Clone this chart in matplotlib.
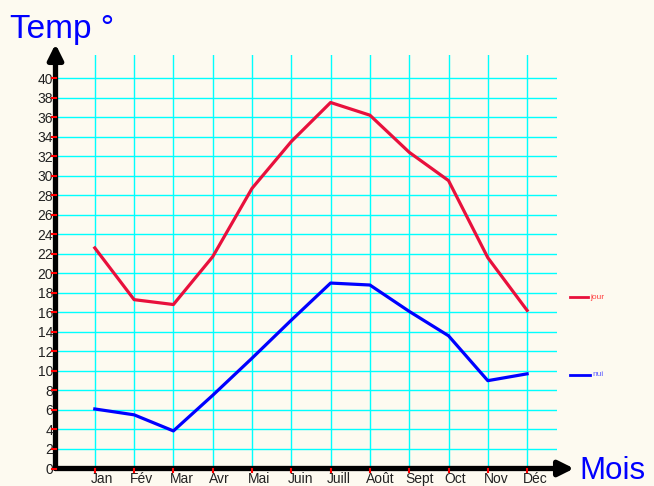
import matplotlib.pyplot as plt
import numpy as np

plt.rcParams['font.family'] = ['Liberation Sans', 'DejaVu Sans']

# months and monthly temperatures
mois = ['Jan', 'Fév', 'Mar', 'Avr', 'Mai', 'Juin', 'Juill', 'Août', 'Sept', 'Oct', 'Nov', 'Déc']
jour = [22.6, 17.3, 16.8, 21.7, 28.7, 33.5, 37.5, 36.2, 32.4, 29.5, 21.6, 16.2]
nuit = [6.1, 5.5, 3.85, 7.5, 11.3, 15.2, 19.0, 18.8, 16.1, 13.6, 9.0, 9.7]
yticks = list(range(0, 41, 2))

W, H = 654, 486
bg = '#fdfaf0'
fig = plt.figure(figsize=(W / 100, H / 100), dpi=100, facecolor=bg)

# plot area in pixels
x0, x1 = 55.5, 557
y0, y1 = 468.5, 55
axes = fig.add_axes([x0 / W, (H - y0) / H, (x1 - x0) / W, (y0 - y1) / H])
axes.set_facecolor(bg)
px_x = 39.3
px_y = 9.76
axes.set_xlim(0, (x1 - x0) / px_x)
axes.set_ylim(0, (y0 - y1) / px_y)

x = np.arange(1, 13)

# grid
for v in yticks[1:]:
    axes.axhline(v, color='#00ffff', lw=1, zorder=1)
for v in x:
    axes.axvline(v, color='#00ffff', lw=1, zorder=1)

axes.plot(x, jour, color='#e8103c', lw=2.3, zorder=3)
axes.plot(x, nuit, color='#0000ff', lw=2.3, zorder=3)

for s in axes.spines.values():
    s.set_visible(False)
axes.set_xticks([])
axes.set_yticks([])

# axes with arrows
axes.annotate('', xy=(0, (y0 - 44) / px_y), xytext=(0, 0), annotation_clip=False,
              arrowprops=dict(arrowstyle='-|>,head_width=0.45,head_length=0.9', color='black', lw=3.8, shrinkA=0, shrinkB=0))
axes.annotate('', xy=((574 - x0) / px_x, 0), xytext=(0, 0), annotation_clip=False,
              arrowprops=dict(arrowstyle='-|>,head_width=0.45,head_length=0.9', color='black', lw=3.8, shrinkA=0, shrinkB=0))

# red tick marks and labels
for v in yticks:
    axes.plot([-0.1, 0], [v, v], color='red', lw=1.5, clip_on=False, zorder=4)
    axes.text(-0.06, v - 0.15, str(v), ha='right', va='center', fontsize=10, color='#222222')
for i, m in enumerate(mois):
    axes.plot([x[i], x[i]], [0, -0.4], color='red', lw=1.5, clip_on=False, zorder=4)
    axes.text(x[i] - 0.1, -0.35, m, ha='left', va='top', fontsize=10, color='#222222')

# titles
fig.text(10 / W, 1 - 38 / H, 'Temp °', color='#0000ff', fontsize=24, va='baseline', ha='left')
fig.text(579 / W, 1 - 479 / H, 'Mois', color='#0000ff', fontsize=22.5, va='baseline', ha='left')

# legend
fig.add_artist(plt.Line2D([570 / W, 588 / W], [1 - 297 / H] * 2, color='#e8103c', lw=2))
fig.text(590 / W, 1 - 297 / H, 'jour', color='#ff4040', fontsize=6, va='center')
fig.add_artist(plt.Line2D([570 / W, 590 / W], [1 - 375 / H] * 2, color='#0000ff', lw=2))
fig.text(592 / W, 1 - 374 / H, 'nui', color='#6060ff', fontsize=6, va='center')

plt.savefig('out.png', dpi=100, facecolor=bg)
plt.close()
